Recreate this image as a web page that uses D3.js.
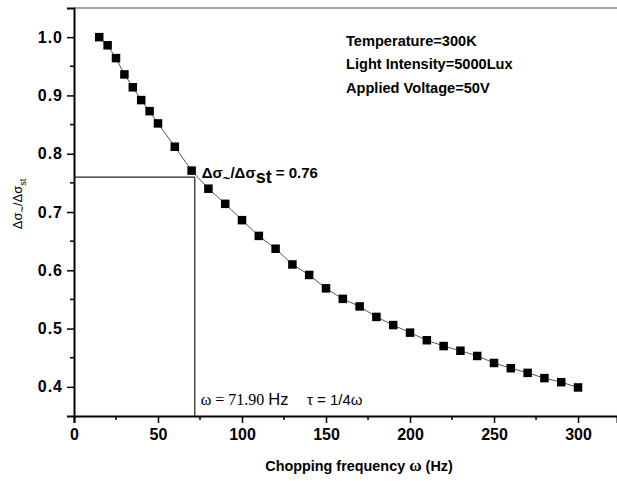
<!DOCTYPE html>
<html>
<head>
<meta charset="utf-8">
<script src="https://cdn.jsdelivr.net/npm/d3@7"></script>
<style>
  body { margin: 0; background: #fff; }
  svg { display: block; }
  text { font-family: Arial, "Liberation Sans", sans-serif; }
</style>
</head>
<body>
<svg id="chart" width="617" height="481"></svg>
<script>
// Chopping frequency (Hz) and normalised photoconductivity response
const freq = [15, 20, 25, 30, 35, 40, 45, 50, 60, 70, 80, 90, 100, 110, 120, 130, 140,
              150, 160, 170, 180, 190, 200, 210, 220, 230, 240, 250, 260, 270, 280, 290, 300];
const ratio = [1.000, 0.986, 0.964, 0.936, 0.914, 0.892, 0.873, 0.852, 0.812, 0.771, 0.740,
               0.714, 0.686, 0.659, 0.637, 0.610, 0.592, 0.569, 0.551, 0.538, 0.520, 0.506,
               0.493, 0.480, 0.470, 0.462, 0.453, 0.441, 0.432, 0.424, 0.415, 0.408, 0.399];
const xTicks = [0, 50, 100, 150, 200, 250, 300];
const yTicks = [0.4, 0.5, 0.6, 0.7, 0.8, 0.9, 1.0];
const conditions = ["Temperature=300K", "Light Intensity=5000Lux", "Applied Voltage=50V"];
const markOmega = 71.90;   // frequency at the marked point
const markRatio = 0.76;    // response at the marked point

const svg = d3.select("#chart");
const plotL = 74, plotR = 617, plotT = 8, plotB = 416;
const sans = "Arial, 'Liberation Sans', sans-serif";
const serif = "'Liberation Serif', 'Times New Roman', serif";

const x = d3.scaleLinear().domain([0, 323.2]).range([plotL, plotR]);
const y = d3.scaleLinear().domain([0.35, 1.05]).range([plotB, plotT]);

// top frame line
svg.append("line")
  .attr("x1", plotL).attr("x2", plotR).attr("y1", plotT).attr("y2", plotT)
  .attr("stroke", "#888").attr("stroke-width", 1.5);

// minor ticks
const xMinor = d3.range(25, 325, 50);
const yMinor = d3.range(0.35, 1.05, 0.1).map(v => +v.toFixed(2)).filter(v => v > 0.36);
svg.append("g").selectAll("line").data(xMinor).join("line")
  .attr("x1", d => x(d)).attr("x2", d => x(d))
  .attr("y1", plotB).attr("y2", plotB + 4)
  .attr("stroke", "#000").attr("stroke-width", 1.5);
svg.append("g").selectAll("line").data(yMinor).join("line")
  .attr("y1", d => y(d)).attr("y2", d => y(d))
  .attr("x1", plotL).attr("x2", plotL - 4)
  .attr("stroke", "#000").attr("stroke-width", 1.5);

// x axis
const gx = svg.append("g").attr("transform", `translate(0,${plotB})`)
  .call(d3.axisBottom(x).tickValues(xTicks).tickFormat(d3.format("d")).tickSize(7).tickPadding(6));
gx.select(".domain").attr("stroke-width", 2);
gx.selectAll(".tick line").attr("stroke-width", 1.5);
gx.selectAll(".tick text").attr("font-size", 16).attr("font-weight", "bold")
  .attr("font-family", sans);

// y axis
const gy = svg.append("g").attr("transform", `translate(${plotL},0)`)
  .call(d3.axisLeft(y).tickValues(yTicks).tickFormat(d3.format(".1f")).tickSize(7).tickPadding(4));
gy.select(".domain").attr("stroke-width", 2);
gy.selectAll(".tick line").attr("stroke-width", 1.5);
gy.selectAll(".tick text").attr("font-size", 16).attr("font-weight", "bold")
  .attr("letter-spacing", 1).attr("font-family", sans);

// guide lines to the marked point
svg.append("line")
  .attr("x1", plotL).attr("x2", x(markOmega))
  .attr("y1", y(markRatio)).attr("y2", y(markRatio))
  .attr("stroke", "#222").attr("stroke-width", 1.2);
svg.append("line")
  .attr("x1", x(markOmega)).attr("x2", x(markOmega))
  .attr("y1", y(markRatio)).attr("y2", plotB)
  .attr("stroke", "#222").attr("stroke-width", 1.2);

// connecting line
const pts = freq.map((f, i) => [f, ratio[i]]);
svg.append("path")
  .datum(pts)
  .attr("fill", "none").attr("stroke", "#444").attr("stroke-width", 0.9)
  .attr("d", d3.line().x(d => x(d[0])).y(d => y(d[1])));

// square markers
const ms = 8.5;
svg.append("g").selectAll("rect").data(pts).join("rect")
  .attr("x", d => x(d[0]) - ms / 2).attr("y", d => y(d[1]) - ms / 2)
  .attr("width", ms).attr("height", ms).attr("fill", "#000");

// ratio label at the marked point
const rl = svg.append("text")
  .attr("x", x(markOmega) + 7).attr("y", y(markRatio) + 1)
  .attr("font-size", 15).attr("font-weight", "bold");
rl.append("tspan").text("Δσ");
rl.append("tspan").attr("dy", 5).attr("font-size", 13).text("~");
rl.append("tspan").attr("dy", -5).text("/Δσ");
rl.append("tspan").attr("dy", 5).attr("font-size", 18).text("st");
rl.append("tspan").attr("dy", -5).text(" = " + markRatio.toFixed(2));

// frequency and time-constant labels
const fl = svg.append("text").attr("x", x(markOmega) + 6).attr("y", 405)
  .attr("font-size", 16);
fl.append("tspan").attr("font-family", serif)
  .text("ω = " + markOmega.toFixed(2) + " ");
fl.append("tspan").attr("font-family", sans).attr("font-size", 16.5).text("Hz");
svg.append("text").attr("x", 307).attr("y", 405).attr("font-size", 15)
  .attr("font-family", serif)
  .text("τ = 1/4ω");

// experimental conditions
svg.append("g").selectAll("text").data(conditions).join("text")
  .attr("x", 346).attr("y", (d, i) => 46 + i * 23.3)
  .attr("font-size", 14.6).attr("font-weight", "bold")
  .text(d => d);

// x axis title
const xt = svg.append("text").attr("x", 359).attr("y", 471)
  .attr("text-anchor", "middle").attr("font-size", 14.4).attr("font-weight", "bold");
xt.append("tspan").text("Chopping frequency ");
xt.append("tspan").attr("font-family", serif)
  .attr("font-size", 17).text("ω");
xt.append("tspan").text(" (Hz)");

// y axis title
const yt = svg.append("text")
  .attr("transform", `translate(22,${y(0.7) - 8}) rotate(-90)`)
  .attr("text-anchor", "middle").attr("font-size", 13);
yt.append("tspan").text("Δσ");
yt.append("tspan").attr("dy", 4).attr("font-size", 11).text("~");
yt.append("tspan").attr("dy", -4).text("/Δσ");
yt.append("tspan").attr("dy", 4).attr("font-size", 9).text("st");
</script>
</body>
</html>
